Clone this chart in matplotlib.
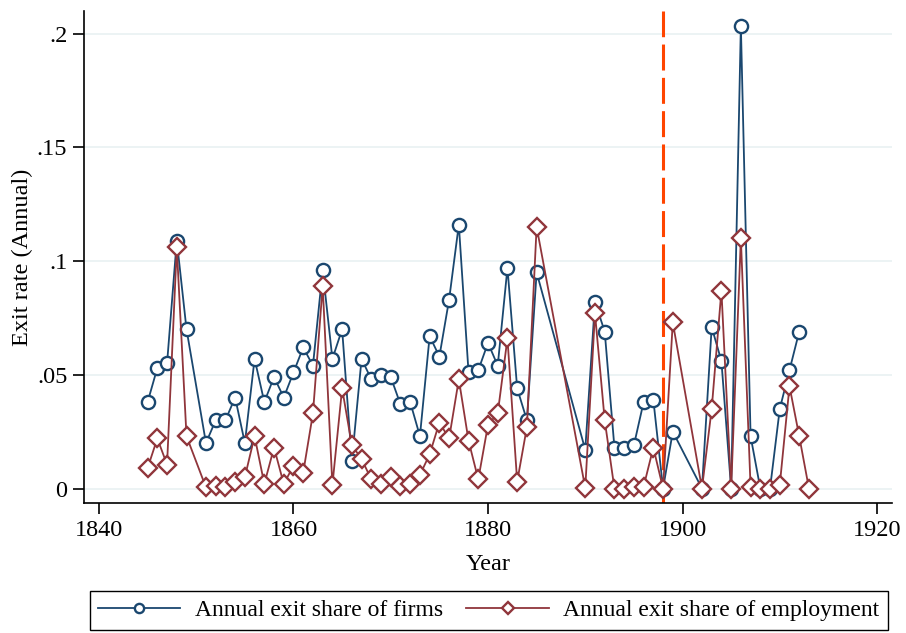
import numpy as np
import matplotlib
matplotlib.use("Agg")
import matplotlib.pyplot as plt
from matplotlib.ticker import FuncFormatter

years = [1845, 1846, 1847, 1848, 1849, 1851, 1852, 1853, 1854, 1855, 1856, 1857, 1858, 1859,
         1860, 1861, 1862, 1863, 1864, 1865, 1866, 1867, 1868, 1869, 1870, 1871, 1872, 1873,
         1874, 1875, 1876, 1877, 1878, 1879, 1880, 1881, 1882, 1883, 1884, 1885,
         1890, 1891, 1892, 1893, 1894, 1895, 1896, 1897, 1898, 1899,
         1902, 1903, 1904, 1905, 1906, 1907, 1908, 1909, 1910, 1911, 1912, 1913]

firms = [0.038, 0.053, 0.055, 0.109, 0.070, 0.020, 0.030, 0.030, 0.040, 0.020, 0.057, 0.038, 0.049, 0.040,
         0.051, 0.062, 0.054, 0.096, 0.057, 0.070, 0.012, 0.057, 0.048, 0.050, 0.049, 0.037, 0.038, 0.023,
         0.067, 0.058, 0.083, 0.116, 0.051, 0.052, 0.064, 0.054, 0.097, 0.044, 0.030, 0.095,
         0.017, 0.082, 0.069, 0.018, 0.018, 0.019, 0.038, 0.039, 0.000, 0.025,
         0.000, 0.071, 0.056, 0.000, 0.2035, 0.023, 0.000, 0.000, 0.035, 0.052, 0.069, np.nan]

employment = [0.009, 0.022, 0.0105, 0.106, 0.023, 0.0005, 0.001, 0.0005, 0.003, 0.005, 0.023, 0.002, 0.018, 0.002,
              0.010, 0.007, 0.033, 0.089, 0.0015, 0.044, 0.019, 0.013, 0.004, 0.002, 0.005, 0.001, 0.002, 0.006,
              0.015, 0.029, 0.022, 0.048, 0.021, 0.004, 0.028, 0.033, 0.066, 0.003, 0.027, 0.115,
              0.0002, 0.077, 0.030, 0.000, 0.000, 0.0008, 0.0008, 0.018, 0.000, 0.073,
              0.000, 0.035, 0.087, 0.000, 0.110, 0.0005, 0.000, 0.000, 0.0015, 0.045, 0.023, 0.000]

cutoff_year = 1898
x_ticks = [1840, 1860, 1880, 1900, 1920]
y_ticks = [0, 0.05, 0.1, 0.15, 0.2]
labels = ["Annual exit share of firms", "Annual exit share of employment"]

plt.rcParams['font.family'] = ['Liberation Serif', 'DejaVu Serif']

navy = '#1a476f'
maroon = '#90353b'

fig = plt.figure(figsize=(9.06, 6.33), dpi=100)
ax = fig.add_axes([84/906, 1 - 503/633, (892-84)/906, (503-11)/633])

for yt in y_ticks:
    ax.axhline(yt, color='#eaf2f3', lw=1.3, zorder=0)

vl = ax.axvline(cutoff_year, color='#ff4500', lw=2.2, zorder=1)
vl.set_dashes((8.5, 2.4))

l1, = ax.plot(years, firms, color=navy, lw=1.3, marker='o', ms=9.5, mfc='white',
              mec=navy, mew=1.7, zorder=3, label=labels[0])
l2, = ax.plot(years, employment, color=maroon, lw=1.3, marker='D', ms=9, mfc='white',
              mec=maroon, mew=1.7, zorder=4, label=labels[1])

ax.set_xlim(1838.46, 1921.54)
ax.set_ylim(-0.00637, 0.2099)
ax.set_xticks(x_ticks)
ax.set_yticks(y_ticks)

def fmt(v, pos):
    if abs(v) < 1e-12:
        return '0'
    s = ('%g' % v)
    return s.replace('0.', '.', 1) if s.startswith('0.') else s

ax.yaxis.set_major_formatter(FuncFormatter(fmt))
ax.tick_params(axis='both', labelsize=17.5, length=8, width=1.2, color='black', pad=4)
for s in ['top', 'right']:
    ax.spines[s].set_visible(False)
for s in ['left', 'bottom']:
    ax.spines[s].set_linewidth(1.2)

ax.set_xlabel('Year', fontsize=17.5)
ax.set_ylabel('Exit rate (Annual)', fontsize=17.5)
ax.xaxis.set_label_coords(0.5, (503 - 565) / 492, transform=ax.transAxes)
ax.yaxis.set_label_coords((22 - 84) / 808, 0.5, transform=ax.transAxes)
ax.xaxis.label.set_va('center')
ax.yaxis.label.set_va('center')

leg = fig.legend(handles=[l1, l2], labels=labels, loc='center',
                 bbox_to_anchor=(488.5/906, 1 - 610.5/633), ncol=2, fontsize=17,
                 frameon=True, fancybox=False, edgecolor='black', framealpha=1,
                 handlelength=3.5, markerscale=0.7, columnspacing=1.0,
                 handletextpad=0.6, borderpad=0.35, borderaxespad=0)
leg.get_frame().set_linewidth(1.0)

fig.savefig('out.png', dpi=100, facecolor='white')
